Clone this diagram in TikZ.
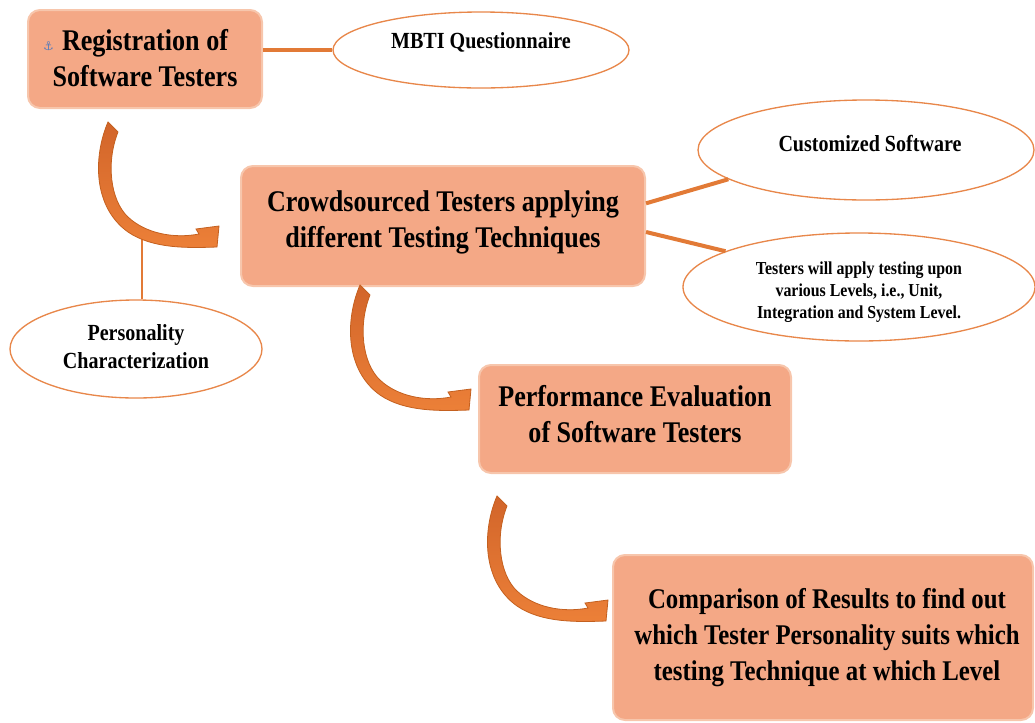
\documentclass[tikz,border=0pt]{standalone}
\usepackage{fontspec}
\setmainfont{Liberation Serif}[FakeStretch=0.87]
\newfontfamily\symfont{DejaVu Sans}
\usetikzlibrary{shapes.geometric}
\definecolor{boxfill}{HTML}{F4A886}
\definecolor{boxedge}{HTML}{F7C6AC}
\definecolor{linec}{HTML}{E27A36}
\definecolor{ellc}{HTML}{E8874A}
\definecolor{arrtop}{HTML}{D2652A}
\definecolor{arrbot}{HTML}{EC8038}
\definecolor{arredge}{HTML}{C4601F}
\definecolor{anchorc}{HTML}{5A7DBA}
\begin{document}
\begin{tikzpicture}[x=0.75pt,y=-0.75pt,
  stepbox/.style={rectangle, rounded corners=9pt, fill=boxfill, draw=boxedge, line width=1.5pt, inner sep=0pt},
  boxtext/.style={align=center, font=\fontsize{22.5}{27}\selectfont\bfseries, inner sep=0pt},
  oval/.style={ellipse, draw=ellc, line width=1pt, fill=white, inner sep=0pt},
  ovaltext/.style={align=center, font=\fontsize{17.3}{21}\selectfont\bfseries, inner sep=0pt},
  smalltext/.style={align=center, font=\fontsize{13.7}{16.5}\selectfont\bfseries, inner sep=0pt},
  link/.style={draw=linec, line width=3pt},
  curvarrow/.pic={
    \shadedraw[top color=arrtop, bottom color=arrbot, draw=arredge, line width=0.6pt]
      (0,0) .. controls (-15,35) and (-15,85) .. (20,110)
      .. controls (45,127) and (80,126) .. (109,125)
      -- (111,104) -- (88,107) -- (91,112)
      .. controls (65,117) and (37,111) .. (20,95)
      .. controls (2,78) and (-2,40) .. (10,10) -- cycle;
  }
]
\useasboundingbox (0,0) rectangle (1035,722);

% boxes
\node[stepbox, minimum width=175.5pt, minimum height=73.5pt] (reg) at (145,59) {};
\node[boxtext] at ([yshift=0.5pt]reg.center)
  {\llap{{\symfont\fontsize{9}{9}\selectfont\color{anchorc}⚓}\hspace{6pt}}Registration of\\Software Testers};
\node[stepbox, minimum width=303pt, minimum height=90pt] (crowd) at (443,226) {};
\node[boxtext] at ([yshift=3pt]crowd.center)
  {Crowdsourced Testers applying\\different Testing Techniques};
\node[stepbox, minimum width=234pt, minimum height=81pt] (perf) at (635,419) {};
\node[boxtext] at ([yshift=4pt]perf.center)
  {Performance Evaluation\\of Software Testers};
\node[stepbox, minimum width=315pt, minimum height=123.75pt] (comp) at (823,637.5) {};
\node[boxtext, font=\fontsize{21.4}{27}\selectfont\bfseries] at ([xshift=3pt]comp.center)
  {Comparison of Results to find out\\which Tester Personality suits which\\testing Technique at which Level};

% ellipses
\node[oval, minimum width=222pt, minimum height=57pt] (mbti) at (481,50) {};
\node[ovaltext] at ([yshift=6pt]mbti.center) {MBTI Questionnaire};
\node[oval, minimum width=252pt, minimum height=75pt] (cs) at (866,150) {};
\node[ovaltext] at ([xshift=3pt,yshift=5pt]cs.center) {Customized Software};
\node[oval, minimum width=264pt, minimum height=81pt] (tw) at (859,287) {};
\node[smalltext] at ([yshift=-4pt]tw.center) {Testers will apply testing upon\\various Levels, i.e., Unit,\\Integration and System Level.};
\node[oval, minimum width=189pt, minimum height=73.5pt] (pers) at (136,349) {};
\node[ovaltext] at ([yshift=2pt]pers.center) {Personality\\Characterization};

% links
\draw[link] (mbti.west) -- (mbti.west -| reg.east);
\draw[link] ([yshift=17pt]crowd.east) -- (cs.192);
\draw[link] ([yshift=-4.5pt]crowd.east) -- (tw.165);
\coordinate (pj) at (142,236);
\draw[draw=linec, line width=2pt] ([xshift=4.5pt]pers.north) -- (pj);

% curved arrows
\pic at (108,122) {curvarrow};
\pic at (360,285) {curvarrow};
\pic at (497,496) {curvarrow};
\end{tikzpicture}
\end{document}
